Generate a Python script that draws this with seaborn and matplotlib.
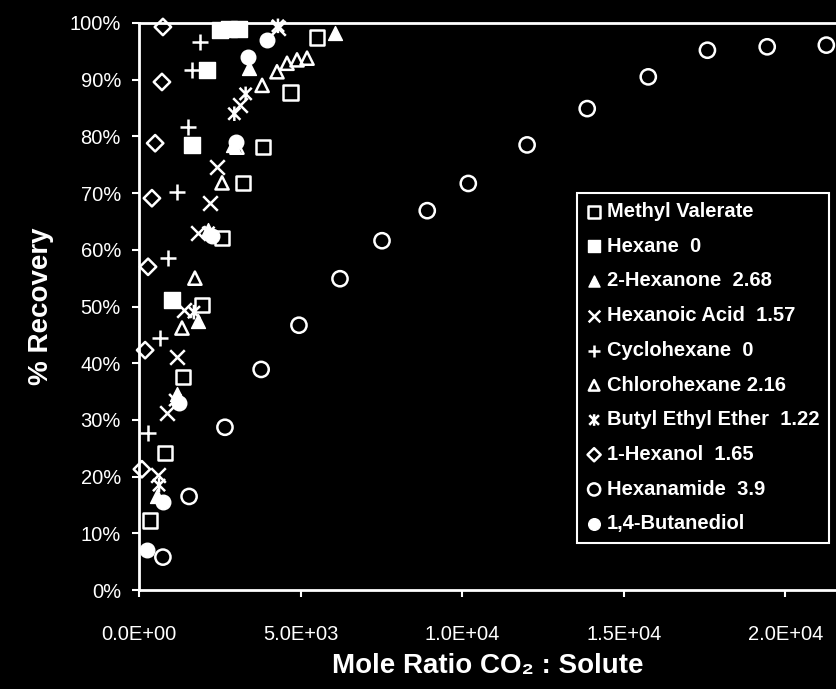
import matplotlib.pyplot as plt
import seaborn as sns
from matplotlib.path import Path
from matplotlib.ticker import FuncFormatter, PercentFormatter


# values: mole ratio CO2:solute vs % recovery
methyl_valerate_x = [340, 800, 1360, 1950, 2570, 3220, 3840, 4680, 5510]
methyl_valerate_y = [12.3, 24.2, 37.6, 50.3, 62.1, 71.8, 78.1, 87.7, 97.4]

hexane_x = [1020, 1640, 2100, 2500, 2800, 3100]
hexane_y = [51.1, 78.5, 91.7, 98.8, 99.0, 99.0]

hexanone_x = [560, 1180, 1830, 2140, 2910, 3400, 6070]
hexanone_y = [16.5, 34.5, 47.5, 63.5, 78.5, 92.0, 98.2]

hexanoic_acid_x = [590, 870, 1180, 1400, 1830, 2200, 2400, 3130, 4300]
hexanoic_acid_y = [20.3, 31.2, 41.1, 49.4, 63.0, 68.3, 74.6, 85.5, 99.1]

cyclohexane_x = [280, 650, 900, 1180, 1520, 1640, 1890]
cyclohexane_y = [27.7, 44.4, 58.6, 70.2, 81.7, 91.7, 96.6]

chlorohexane_x = [1330, 1730, 2570, 3030, 3810, 4270, 4580, 4890, 5200]
chlorohexane_y = [46.2, 55.0, 71.8, 78.1, 89.0, 91.4, 92.9, 93.5, 93.8]

butyl_ethyl_ether_x = [620, 1120, 1700, 2150, 2950, 3300, 4300]
butyl_ethyl_ether_y = [18.5, 33.5, 49.0, 63.0, 84.0, 87.5, 99.5]

hexanol_x = [90, 190, 280, 400, 500, 710, 740]
hexanol_y = [21.3, 42.3, 57.0, 69.1, 78.8, 89.6, 99.3]

hexanamide_x = [740, 1550, 2660, 3780, 4950, 6220, 7520, 8920, 10190,
                12010, 13870, 15760, 17590, 19440, 21270]
hexanamide_y = [5.8, 16.5, 28.7, 38.9, 46.7, 54.9, 61.6, 66.9, 71.7,
                78.5, 84.9, 90.5, 95.2, 95.8, 96.1]

butanediol_x = [250, 740, 1250, 2250, 3000, 3380, 3960]
butanediol_y = [7.0, 15.5, 33.0, 62.5, 79.0, 94.0, 97.0]

x_ticks = [0, 5000, 10000, 15000, 20000]
y_ticks = [0, 10, 20, 30, 40, 50, 60, 70, 80, 90, 100]

# asterisk-like "star" marker (X plus a vertical stroke)
star = Path(
    [(-1, -1), (1, 1), (-1, 1), (1, -1), (0, -1.2), (0, 1.2)],
    [Path.MOVETO, Path.LINETO, Path.MOVETO, Path.LINETO, Path.MOVETO, Path.LINETO],
)

sns.set_style("ticks")
plt.rcParams["font.family"] = ["Liberation Sans", "DejaVu Sans"]

fig = plt.figure(figsize=(8.37, 6.89), dpi=100, facecolor="black")
ax = fig.add_axes([139 / 837, 1 - 590 / 689, 698 / 837, 567 / 689])
ax.set_facecolor("black")

open_kw = dict(color="white", facecolor="none", edgecolor="white", linewidth=1.8, clip_on=False)
full_kw = dict(color="white", edgecolor="white", linewidth=1.0, clip_on=False)
line_kw = dict(color="white", linewidth=1.8, clip_on=False)

sns.scatterplot(x=methyl_valerate_x, y=methyl_valerate_y, marker="s", s=110, label="Methyl Valerate", ax=ax, **open_kw)
sns.scatterplot(x=hexane_x, y=hexane_y, marker="s", s=120, label="Hexane  0", ax=ax, **full_kw)
sns.scatterplot(x=hexanone_x, y=hexanone_y, marker="^", s=100, label="2-Hexanone  2.68", ax=ax, **full_kw)
sns.scatterplot(x=hexanoic_acid_x, y=hexanoic_acid_y, marker="x", s=110, label="Hexanoic Acid  1.57", ax=ax, **line_kw)
sns.scatterplot(x=cyclohexane_x, y=cyclohexane_y, marker="+", s=130, label="Cyclohexane  0", ax=ax, **line_kw)
sns.scatterplot(x=chlorohexane_x, y=chlorohexane_y, marker="^", s=90, label="Chlorohexane 2.16", ax=ax, **open_kw)
sns.scatterplot(x=butyl_ethyl_ether_x, y=butyl_ethyl_ether_y, marker=star, s=110, label="Butyl Ethyl Ether  1.22", ax=ax, **open_kw)
sns.scatterplot(x=hexanol_x, y=hexanol_y, marker="D", s=70, label="1-Hexanol  1.65", ax=ax, **open_kw)
sns.scatterplot(x=hexanamide_x, y=hexanamide_y, marker="o", s=120, label="Hexanamide  3.9", ax=ax, **open_kw)
sns.scatterplot(x=butanediol_x, y=butanediol_y, marker="o", s=110, label="1,4-Butanediol", ax=ax, **full_kw)

ax.set_xlim(0, 21600)
ax.set_ylim(0, 100)
ax.set_xticks(x_ticks)
ax.set_yticks(y_ticks)
ax.xaxis.set_major_formatter(FuncFormatter(lambda v, p: f"{v:.1E}"))
ax.yaxis.set_major_formatter(PercentFormatter(decimals=0))

for side in ["left", "bottom", "top"]:
    ax.spines[side].set_color("white")
    ax.spines[side].set_linewidth(2)
ax.spines["right"].set_visible(False)
ax.tick_params(axis="both", colors="white", labelcolor="white", labelsize=14.5,
               direction="out", length=5, width=1.5)
ax.tick_params(axis="x", pad=20)
ax.tick_params(axis="y", pad=8)

ax.set_xlabel("Mole Ratio CO₂ : Solute", color="white", fontsize=20, fontweight="bold", labelpad=7)
ax.set_ylabel("% Recovery", color="white", fontsize=20, fontweight="bold", labelpad=11)

leg = ax.legend(loc="upper left", bbox_to_anchor=(577 / 837, 1 - 193 / 689),
                bbox_transform=fig.transFigure, frameon=True, fancybox=False,
                facecolor="black", edgecolor="white", framealpha=1, labelcolor="white",
                prop={"weight": "bold", "size": 14.5}, handlelength=0.8,
                handletextpad=0.25, labelspacing=0.78, borderpad=0.45,
                borderaxespad=0, markerscale=0.8)
leg.get_frame().set_linewidth(1.5)

plt.savefig("out.png", dpi=100, facecolor="black")
